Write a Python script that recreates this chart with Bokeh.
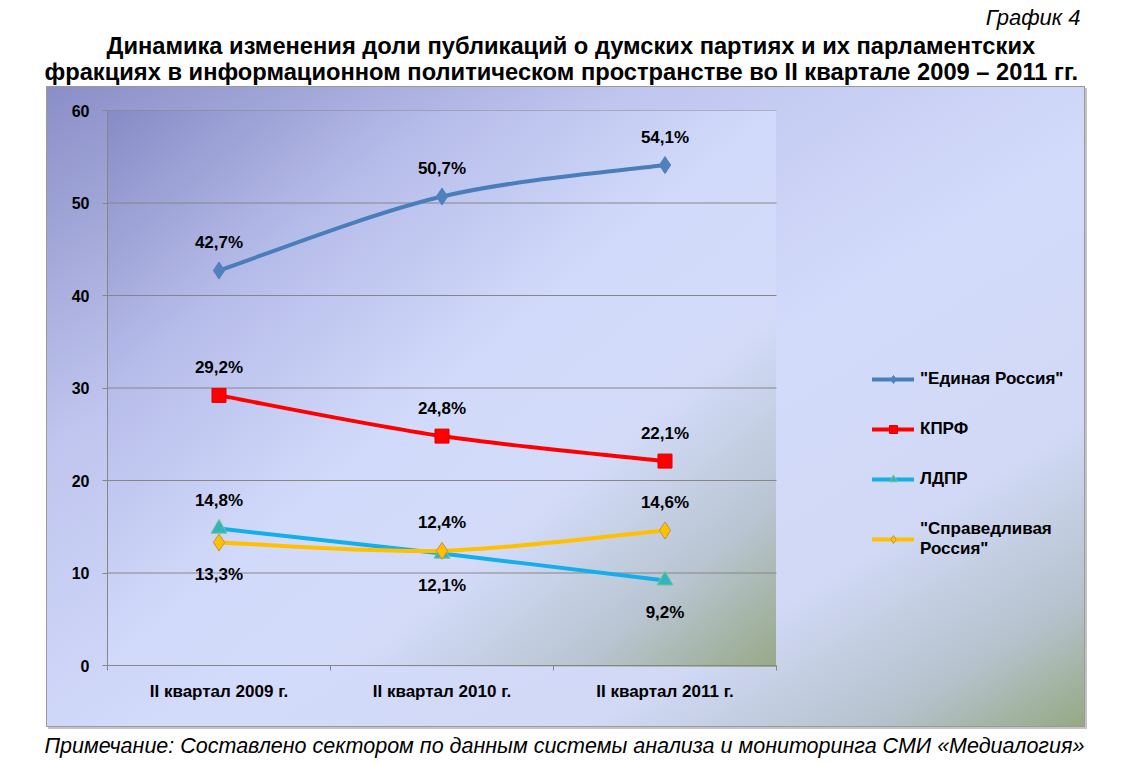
from bokeh.plotting import figure
from bokeh.models import (Range1d, FixedTicker, Legend, LegendItem, Title, ColumnDataSource)
from bokeh.core.properties import value
from bokeh.embed import file_html
from bokeh.resources import INLINE

# ---------------- data ----------------
categories = ["II квартал 2009 г.", "II квартал 2010 г.", "II квартал 2011 г."]
er = [42.7, 50.7, 54.1]          # "Единая Россия"
kprf = [29.2, 24.8, 22.1]        # КПРФ
ldpr = [14.8, 12.1, 9.2]         # ЛДПР
sr = [13.3, 12.4, 14.6]          # "Справедливая Россия"
y_ticks = [0, 10, 20, 30, 40, 50, 60]

series_names = ['"Единая Россия"', "КПРФ", "ЛДПР", '"Справедливая\nРоссия"']
title_line1 = "Динамика изменения доли публикаций о думских партиях и их парламентских"
title_line2 = "фракциях в информационном политическом пространстве во II квартале 2009 – 2011 гг."
chart_no = "График 4"
note = "Примечание: Составлено сектором по данным системы анализа и мониторинга СМИ «Медиалогия»"

# label placement: -1 above the point, +1 below
label_side = {
    "er": [-1, -1, -1],
    "kprf": [-1, -1, -1],
    "ldpr": [-1, 1, 1],
    "sr": [1, -1, -1],
}

FONT = "Liberation Sans"
W, H = 1130, 758
FL, FT, FR, FB = 107, 110, 776, 667   # plot area (data region)
BOX_R = 1084                          # right edge of chart box (frame extends there)
FW, FH = FR - FL, FB - FT
n = len(categories)
x_end = n * (BOX_R - FL) / (FR - FL)

frame_grad = ("linear-gradient(to bottom right, #878bc6 0%, #b6bce9 25%, #d2dafb 50%, "
              "#d3dbf9 68%, #b9c5d2 85%, #97a988 100%) "
              f"{FL}px {FT}px / {FW}px {FH}px no-repeat")
box_grad = ("linear-gradient(to bottom right, #8a8ec7 0%, #bfc5ee 28%, #d3dbfb 55%, "
            "#d1d9f6 76%, #b5c2cc 90%, #95a983 100%) "
            "47px 87px / 1037px 639px no-repeat")
border = "linear-gradient(#9a9a9a,#9a9a9a) 46px 86px / 1039px 641px no-repeat"
shadow = "linear-gradient(#c4c4c4,#c4c4c4) 48px 88px / 1039px 641px no-repeat"
css_bg = ", ".join([frame_grad, box_grad, border, shadow]) + ", #ffffff"

p = figure(width=W, height=H, x_range=Range1d(0, x_end), y_range=Range1d(0, 60),
           output_backend="svg", toolbar_location=None,
           min_border_left=FL, min_border_top=FT,
           min_border_right=W - BOX_R, min_border_bottom=H - FB,
           background_fill_color=None, border_fill_color=None,
           outline_line_color=None, styles={"background": css_bg})

xs = [i + 0.5 for i in range(n)]

# axes
p.xaxis.bounds = (0, n)
p.xaxis.ticker = FixedTicker(ticks=xs, minor_ticks=list(range(n + 1)))
p.xaxis.major_label_overrides = {x: c for x, c in zip(xs, categories)}
p.xaxis.major_tick_out = 5
p.xaxis.major_tick_in = 0
p.xaxis.minor_tick_out = 5
p.xaxis.minor_tick_in = 0
p.xaxis.minor_tick_line_color = "#868686"
p.xaxis.major_label_standoff = 11
p.xaxis.major_label_text_font_size = "17px"
p.yaxis.ticker = FixedTicker(ticks=y_ticks)
p.yaxis.major_tick_out = 5
p.yaxis.major_tick_in = 0
p.yaxis.minor_tick_line_color = None
p.yaxis.major_label_standoff = 13
p.yaxis.major_label_text_font_size = "16px"
for ax in (p.xaxis, p.yaxis):
    ax.axis_line_color = "#868686"
    ax.major_label_text_font = FONT
    ax.major_label_text_font_style = "bold"
    ax.major_label_text_color = "#000000"
p.yaxis.major_tick_line_color = "#868686"
p.xaxis.major_tick_line_color = None
p.xgrid.visible = False
p.ygrid.visible = False
# horizontal gridlines limited to the plot area (categories span)
p.segment(x0=[0] * len(y_ticks), x1=[n] * len(y_ticks), y0=y_ticks, y1=y_ticks,
          line_color="#868686", line_width=1)


def smooth(xv, yv):
    m = len(xv)
    d = dict(x0=[], y0=[], x1=[], y1=[], cx0=[], cy0=[], cx1=[], cy1=[])
    for i in range(m - 1):
        a = i - 1 if i > 0 else i
        b = i + 2 if i + 2 < m else i + 1
        d["x0"].append(xv[i]); d["y0"].append(yv[i])
        d["x1"].append(xv[i + 1]); d["y1"].append(yv[i + 1])
        d["cx0"].append(xv[i] + (xv[i + 1] - xv[a]) / 6)
        d["cy0"].append(yv[i] + (yv[i + 1] - yv[a]) / 6)
        d["cx1"].append(xv[i + 1] - (xv[b] - xv[i]) / 6)
        d["cy1"].append(yv[i + 1] - (yv[b] - yv[i]) / 6)
    return d


styles = [
    ("er", er, "#4a7ebb", "diamond", "#4f81bd", "#4f81bd", 17),
    ("kprf", kprf, "#ff0000", "square", "#ff0000", "#e00000", 14),
    ("ldpr", ldpr, "#14aee8", "triangle", "#33b5bf", "#7cc68c", 16),
    ("sr", sr, "#ffc000", "diamond", "#ffc000", "#c0904a", 17),
]

items = []
for (key, vals, lc, mk, mf, ml, ms), name in zip(styles, series_names):
    bz = p.bezier(source=ColumnDataSource(smooth(xs, vals)), x0="x0", y0="y0", x1="x1", y1="y1",
                  cx0="cx0", cy0="cy0", cx1="cx1", cy1="cy1",
                  line_color=lc, line_width=4, line_cap="round")
    sc = p.scatter(xs, vals, marker=mk, size=ms, fill_color=mf, line_color=ml, line_width=1)
    items.append(LegendItem(label=name, renderers=[bz, sc]))

ABOVE_OFF, BELOW_OFF = -28, 32
for (key, vals, *_rest) in styles:
    texts = [f"{v:.1f}".replace(".", ",") + "%" for v in vals]
    offs = [ABOVE_OFF if s < 0 else BELOW_OFF for s in label_side[key]]
    p.text(x=xs, y=vals, text=texts, y_offset=offs,
           text_font=value(FONT), text_font_size="17px", text_font_style="bold",
           text_align="center", text_baseline="middle", text_color="#000000")

legend = Legend(items=items, location=(872 - FL, 106), orientation="vertical",
                background_fill_alpha=0, border_line_color=None,
                padding=0, margin=0, spacing=30, glyph_width=42, glyph_height=20,
                label_height=20, label_standoff=6,
                label_text_font=FONT, label_text_font_size="17px",
                label_text_font_style="bold", label_text_color="#000000")
p.add_layout(legend)


def mk_title(text, size, style, align, offset, standoff, valign="middle"):
    return Title(text=text, text_font=FONT, text_font_size=size, text_font_style=style,
                 align=align, offset=offset, standoff=standoff, vertical_align=valign,
                 text_color="#000000")


# above panel: first added is closest to the frame
p.add_layout(mk_title(" ", "2px", "normal", "left", 0, 20), "above")
p.add_layout(mk_title(title_line2, "23.7px", "bold", "left", 44 - FL, 0, "top"), "above")
p.add_layout(mk_title(title_line1, "23.7px", "bold", "left", 106 - FL, 0, "bottom"), "above")
p.add_layout(mk_title(chart_no, "22px", "italic", "right", BOX_R - 1080, 0), "above")
# below panel: axis first, then spacer, then note
p.add_layout(mk_title(" ", "2px", "normal", "left", 0, 25), "below")
p.add_layout(mk_title(note, "21.5px", "italic", "left", 44 - FL, 0), "below")

open("out.html", "w").write(file_html(p, INLINE))
